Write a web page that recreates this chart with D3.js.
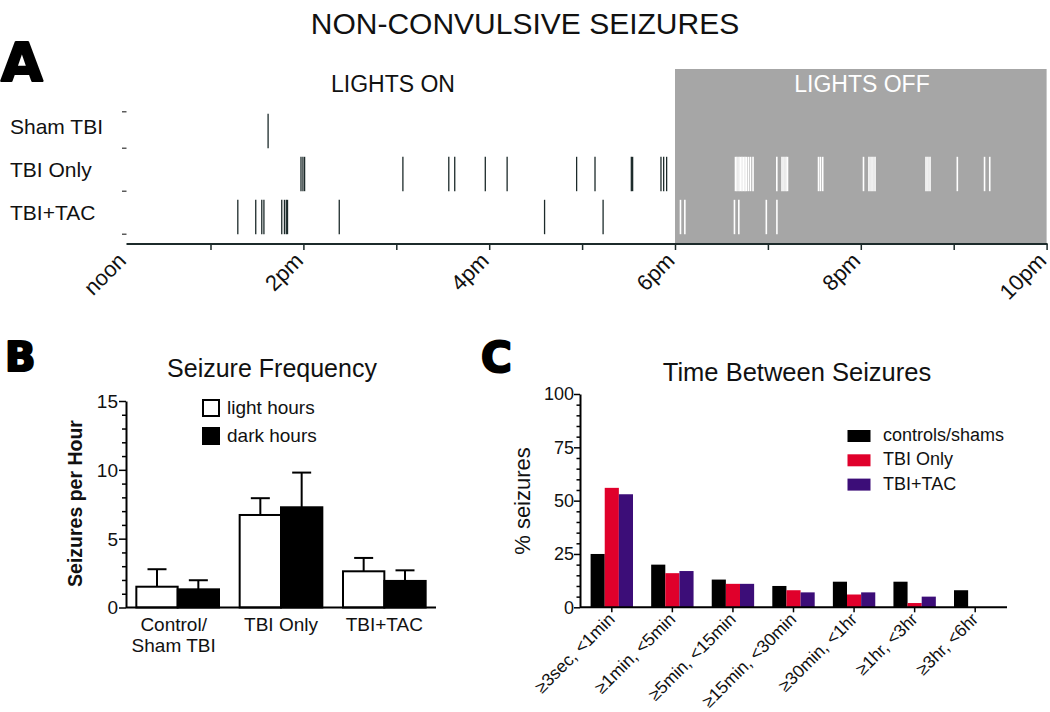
<!DOCTYPE html>
<html><head><meta charset="utf-8">
<script src="https://cdn.jsdelivr.net/npm/d3@7"></script>
<style>
html,body{margin:0;padding:0;background:#fff;}
svg{display:block;font-family:"Liberation Sans",Arial,Helvetica,sans-serif;}
</style></head>
<body>
<svg id="chart" width="1050" height="712"></svg>
<script>
// ---------- Panel A data (seizure onset times, decimal hours) ----------
const rasterRows = ["Sham TBI", "TBI Only", "TBI+TAC"];
const shamTimes = [13.62];
const tbiOnlyTimes = [13.974, 13.995, 14.013, 15.071, 15.565, 15.629, 15.958, 16.193, 16.941, 17.139,
  17.530, 17.544, 17.849, 17.878, 17.910,
  18.651, 18.667, 18.689, 18.705, 18.721, 18.737, 18.754, 18.770, 18.791, 18.813, 18.840,
  19.096, 19.152, 19.173, 19.195, 19.211, 19.545, 19.566, 19.590,
  20.029, 20.088, 20.110, 20.131, 20.153, 20.702, 20.723, 20.745, 21.039, 21.332, 21.388];
const tbiTacTimes = [13.294, 13.487, 13.552, 13.575, 13.767, 13.796, 13.816, 13.829, 14.386, 16.596, 17.226,
  18.059, 18.106, 18.640, 18.687, 18.983, 19.097];
const hourTicks = [13, 14, 15, 16, 17, 18, 19, 20, 21, 22];
const hourLabels = ["noon", "2pm", "4pm", "6pm", "8pm", "10pm"];
const hourLabelValues = [12, 14, 16, 18, 20, 22];
const lightsOffStart = 18, lightsOffEnd = 22;

// ---------- Panel B data ----------
const freqGroups = ["Control/|Sham TBI", "TBI Only", "TBI+TAC"];
const lightMean = [1.51, 6.72, 2.63];
const lightSem = [1.27, 1.22, 0.97];
const darkMean = [1.32, 7.28, 1.93];
const darkSem = [0.66, 2.52, 0.77];
const freqTicks = [0, 5, 10, 15];
const freqSeries = ["light hours", "dark hours"];

// ---------- Panel C data ----------
const intervalCats = ["≥3sec, <1min", "≥1min, <5min", "≥5min, <15min", "≥15min, <30min", "≥30min, <1hr", "≥1hr, <3hr", "≥3hr, <6hr"];
const controlsPct = [25, 20, 13, 10, 12, 12, 8];
const tbiOnlyPct = [56, 16, 11, 8, 6, 2, 0];
const tbiTacPct = [53, 17, 11, 7, 7, 5, 0];
const pctTicks = [0, 25, 50, 75, 100];
const pctSeries = ["controls/shams", "TBI Only", "TBI+TAC"];
const pctColors = ["#000000", "#e0002b", "#3c0d78"];

const svg = d3.select("#chart");
const BOLDF = '"DejaVu Sans","Liberation Sans",Arial,sans-serif';

// Title
svg.append("text").attr("x", 525).attr("y", 34).attr("text-anchor", "middle")
  .attr("font-size", 30).attr("fill", "#111").text("NON-CONVULSIVE SEIZURES");

// panel letters
function letter(t, x, y, s) {
  svg.append("text").attr("x", x).attr("y", y).attr("font-family", BOLDF)
    .attr("font-weight", "bold").attr("font-size", s).attr("fill", "#000")
    .attr("stroke", "#000").attr("stroke-width", 2.2).attr("stroke-linejoin", "round").text(t);
}
letter("A", 1, 81, 54);
letter("B", 5, 371, 40);
letter("C", 481, 372, 42);

// ================= Panel A =================
const xA = d3.scaleLinear().domain([12, 22]).range([117.6, 1046.6]);
const yA = d3.scaleBand().domain(rasterRows).range([109.5, 238.5]).paddingInner(0.2).paddingOuter(0.1);
const axisYA = 244;
const gA = svg.append("g");

gA.append("rect").attr("x", xA(lightsOffStart)).attr("y", 69)
  .attr("width", xA(lightsOffEnd) - xA(lightsOffStart)).attr("height", axisYA - 69)
  .attr("fill", "#a6a6a6");

gA.append("text").attr("x", 393).attr("y", 92).attr("text-anchor", "middle")
  .attr("font-size", 23).attr("fill", "#111").text("LIGHTS ON");
gA.append("text").attr("x", 862).attr("y", 92).attr("text-anchor", "middle")
  .attr("font-size", 23).attr("fill", "#fff").text("LIGHTS OFF");

const rowData = [shamTimes, tbiOnlyTimes, tbiTacTimes];
rasterRows.forEach((r, i) => {
  gA.selectAll(null).data(rowData[i]).enter().append("line")
    .attr("x1", d => xA(d)).attr("x2", d => xA(d))
    .attr("y1", yA(r)).attr("y2", yA(r) + yA.bandwidth())
    .attr("stroke", d => d >= lightsOffStart ? "#ffffff" : "#1c2a2a")
    .attr("stroke-width", d => d >= lightsOffStart ? 1.6 : 1.3);
  gA.append("text").attr("x", 10).attr("y", yA(r) + yA.bandwidth() / 2 + 3)
    .attr("font-size", 21).attr("fill", "#111").text(r);
  gA.append("line").attr("x1", 122).attr("x2", 126.5)
    .attr("y1", yA(r) + yA.bandwidth()).attr("y2", yA(r) + yA.bandwidth())
    .attr("stroke", "#333").attr("stroke-width", 1.2);
});
gA.append("line").attr("x1", 122).attr("x2", 126.5).attr("y1", yA(rasterRows[0]) - 2).attr("y2", yA(rasterRows[0]) - 2)
  .attr("stroke", "#333").attr("stroke-width", 1.2);

// x axis
const axA = gA.append("g").attr("transform", `translate(0,${axisYA})`)
  .call(d3.axisBottom(xA).tickValues(hourTicks).tickSize(6).tickFormat(""));
axA.select(".domain").remove();
axA.selectAll(".tick line").attr("stroke", "#1c2a2a").attr("stroke-width", 1.5);
gA.append("line").attr("x1", 126.5).attr("x2", xA(22) + 1).attr("y1", axisYA).attr("y2", axisYA)
  .attr("stroke", "#1c2a2a").attr("stroke-width", 2);
hourLabelValues.forEach((h, i) => {
  const x = i === 0 ? 126.5 : xA(h);
  gA.append("text").attr("transform", `translate(${x + 1},${axisYA + 18}) rotate(-45)`)
    .attr("text-anchor", "end").attr("font-size", 22).attr("fill", "#111")
    .text(hourLabels[i]);
});

// ================= Panel B =================
const gB = svg.append("g");
const xB = d3.scaleBand().domain(freqGroups).range([126, 436]).paddingInner(0.2).paddingOuter(0.1);
const xBs = d3.scaleBand().domain(freqSeries).range([0, xB.bandwidth()]);
const yB = d3.scaleLinear().domain([0, 15]).range([607.5, 401]);

gB.append("text").attr("x", 272).attr("y", 377).attr("text-anchor", "middle")
  .attr("font-size", 25).attr("fill", "#111").text("Seizure Frequency");

const axBy = gB.append("g").attr("transform", "translate(126,0)")
  .call(d3.axisLeft(yB).tickValues(d3.range(0, 16, 1)).tickSize(0).tickFormat(""));
axBy.select(".domain").attr("stroke", "#000").attr("stroke-width", 2);
axBy.selectAll(".tick line").attr("stroke", "#000").attr("stroke-width", 1.5)
  .attr("x2", d => freqTicks.includes(d) ? -7 : -4);
freqTicks.forEach(t => {
  gB.append("text").attr("x", 118).attr("y", yB(t)).attr("dy", "0.36em").attr("text-anchor", "end")
    .attr("font-size", 19).attr("fill", "#111").text(t);
});

const barDataB = [];
freqGroups.forEach((g, i) => {
  barDataB.push({ g, s: freqSeries[0], m: lightMean[i], e: lightSem[i] });
  barDataB.push({ g, s: freqSeries[1], m: darkMean[i], e: darkSem[i] });
});
barDataB.forEach(d => {
  const cx = xB(d.g) + xBs(d.s) + xBs.bandwidth() / 2;
  gB.append("line").attr("x1", cx).attr("x2", cx).attr("y1", yB(d.m)).attr("y2", yB(d.m + d.e))
    .attr("stroke", "#000").attr("stroke-width", 2);
  gB.append("line").attr("x1", cx - 9.5).attr("x2", cx + 9.5).attr("y1", yB(d.m + d.e)).attr("y2", yB(d.m + d.e))
    .attr("stroke", "#000").attr("stroke-width", 2);
});
gB.selectAll(null).data(barDataB).enter().append("rect")
  .attr("x", d => xB(d.g) + xBs(d.s)).attr("width", xBs.bandwidth())
  .attr("y", d => yB(d.m)).attr("height", d => yB(0) - yB(d.m))
  .attr("fill", d => d.s === freqSeries[0] ? "#fff" : "#000")
  .attr("stroke", "#000").attr("stroke-width", 2);

gB.append("line").attr("x1", 126).attr("x2", 436).attr("y1", yB(0)).attr("y2", yB(0))
  .attr("stroke", "#000").attr("stroke-width", 2);

freqGroups.forEach(g => {
  const lines = g.split("|");
  lines.forEach((l, j) => {
    gB.append("text").attr("x", xB(g) + xB.bandwidth() / 2 - (lines.length > 1 ? 4 : 0)).attr("y", 631 + j * 21)
      .attr("text-anchor", "middle").attr("font-size", 19).attr("fill", "#111").text(l);
  });
});

gB.append("text").attr("transform", "translate(82,503.5) rotate(-90)").attr("text-anchor", "middle")
  .attr("font-size", 19.5).attr("font-weight", "bold").attr("fill", "#111").text("Seizures per Hour");

freqSeries.forEach((s, i) => {
  gB.append("rect").attr("x", 203).attr("y", 400 + i * 28).attr("width", 16).attr("height", 16)
    .attr("fill", i === 0 ? "#fff" : "#000").attr("stroke", "#000").attr("stroke-width", 2);
  gB.append("text").attr("x", 227).attr("y", 414 + i * 27.5).attr("font-size", 19).attr("fill", "#111").text(s);
});

// ================= Panel C =================
const gC = svg.append("g");
const xC = d3.scaleBand().domain(intervalCats).range([580, 1007]).paddingInner(0.3).paddingOuter(0.175);
const xCs = d3.scaleBand().domain(pctSeries).range([0, xC.bandwidth()]);
const yC = d3.scaleLinear().domain([0, 100]).range([607.3, 394]);

gC.append("text").attr("x", 797).attr("y", 381).attr("text-anchor", "middle")
  .attr("font-size", 25.5).attr("fill", "#111").text("Time Between Seizures");

const axCy = gC.append("g").attr("transform", "translate(580,0)")
  .call(d3.axisLeft(yC).tickValues(d3.range(0, 101, 5)).tickSize(0).tickFormat(""));
axCy.select(".domain").attr("stroke", "#000").attr("stroke-width", 2);
axCy.selectAll(".tick line").attr("stroke", "#000").attr("stroke-width", 1.5)
  .attr("x2", d => pctTicks.includes(d) ? -6 : -3.5);
pctTicks.forEach(t => {
  gC.append("text").attr("x", 574).attr("y", yC(t)).attr("dy", "0.36em").attr("text-anchor", "end")
    .attr("font-size", 18).attr("fill", "#111").text(t);
});

const pctData = [controlsPct, tbiOnlyPct, tbiTacPct];
pctSeries.forEach((s, si) => {
  gC.selectAll(null).data(intervalCats).enter().append("rect")
    .attr("x", c => xC(c) + xCs(s)).attr("width", xCs.bandwidth())
    .attr("y", (c, i) => yC(pctData[si][i])).attr("height", (c, i) => yC(0) - yC(pctData[si][i]))
    .attr("fill", pctColors[si]);
});

gC.append("line").attr("x1", 580).attr("x2", 1007).attr("y1", yC(0)).attr("y2", yC(0))
  .attr("stroke", "#000").attr("stroke-width", 2);
intervalCats.forEach(c => {
  const cx = xC(c) + xC.bandwidth() / 2;
  gC.append("line").attr("x1", cx).attr("x2", cx).attr("y1", yC(0)).attr("y2", yC(0) + 5)
    .attr("stroke", "#000").attr("stroke-width", 1.5);
  gC.append("text").attr("transform", `translate(${cx + 4},${yC(0) + 13}) rotate(-45)`)
    .attr("text-anchor", "end").attr("font-size", 17.5).attr("fill", "#111").text(c);
});

gC.append("text").attr("transform", "translate(530,501) rotate(-90)").attr("text-anchor", "middle")
  .attr("font-size", 22).attr("fill", "#111").text("% seizures");

pctSeries.forEach((s, i) => {
  gC.append("rect").attr("x", 847.5).attr("y", 430 + i * 24.3).attr("width", 23).attr("height", 12)
    .attr("fill", pctColors[i]);
  gC.append("text").attr("x", 883).attr("y", 441 + i * 24.3).attr("font-size", 18).attr("fill", "#111").text(s);
});
</script>
</body></html>
